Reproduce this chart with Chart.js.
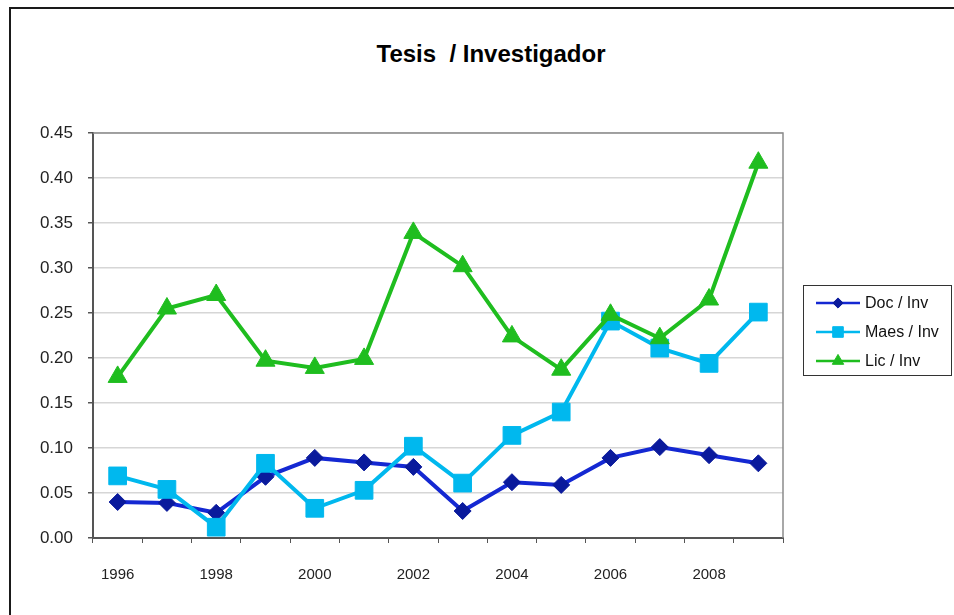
<!DOCTYPE html>
<html>
<head>
<meta charset="utf-8">
<script src="https://cdn.jsdelivr.net/npm/chart.js@4.4.0/dist/chart.umd.min.js"></script>
<style>
    html, body { margin: 0; padding: 0; background: #fff; }
    #contenedor { position: relative; width: 954px; height: 615px; overflow: hidden; }
    #marco {
        position: absolute; left: 9px; top: 7px; width: 1000px; height: 700px;
        border-left: 2px solid #1a1a1a; border-top: 2px solid #1a1a1a;
    }
    #titulo {
        position: absolute; left: 0; top: 40px; width: 982px; text-align: center;
        font: bold 24px "Liberation Sans", Arial, sans-serif; line-height: 28px;
        color: #000; white-space: pre;
    }
    canvas { position: absolute; left: 0; top: 0; }
</style>
</head>
<body>
<div id="contenedor">
    <div id="marco"></div>
    <div id="titulo">Tesis  / Investigador</div>
    <canvas id="graficoTesis" width="954" height="615"></canvas>
</div>
<script>
// ------------------------------------------------------------------
// DATOS
// ------------------------------------------------------------------
const ANIOS = [
    "1996","1997","1998","1999","2000","2001","2002",
    "2003","2004","2005","2006","2007","2008","2009"
];
const ANIOS_VISIBLES = ["1996","1998","2000","2002","2004","2006","2008"];

const DOC_INV  = [0.040,0.039,0.028,0.068,0.089,0.084,0.079,0.030,0.062,0.059,0.089,0.101,0.092,0.083];
const MAES_INV = [0.069,0.054,0.012,0.083,0.033,0.053,0.102,0.061,0.114,0.140,0.241,0.211,0.194,0.251];
const LIC_INV  = [0.179,0.255,0.270,0.197,0.189,0.199,0.339,0.302,0.224,0.187,0.248,0.222,0.265,0.417];

const Y_MIN = 0;
const Y_MAX = 0.45;
const Y_PASO = 0.05;

const FUENTE = '"Liberation Sans", Arial, sans-serif';

// ------------------------------------------------------------------
// marco gris del area de trazado (arriba y derecha)
// ------------------------------------------------------------------
const marcoArea = {
    id: "marcoArea",
    beforeDatasetsDraw(chart) {
        const a = chart.chartArea;
        const ctx = chart.ctx;
        ctx.save();
        ctx.strokeStyle = "#8c8c8c";
        ctx.lineWidth = 1.5;
        ctx.beginPath();
        ctx.moveTo(a.left, a.top);
        ctx.lineTo(a.right, a.top);
        ctx.lineTo(a.right, a.bottom);
        ctx.stroke();
        ctx.restore();
    }
};

// ------------------------------------------------------------------
// leyenda con recuadro (linea + marcador)
// ------------------------------------------------------------------
const leyendaCaja = {
    id: "leyendaCaja",
    afterDraw(chart) {
        const ctx = chart.ctx;
        ctx.save();
        ctx.strokeStyle = "#333";
        ctx.lineWidth = 1;
        ctx.strokeRect(803.5, 285.5, 148, 90);
        ctx.font = "16px " + FUENTE;
        ctx.textBaseline = "middle";

        chart.data.datasets.forEach((ds, i) => {
            const y = 303 + i * 29;
            ctx.strokeStyle = ds.borderColor;
            ctx.lineWidth = 2.5;
            ctx.beginPath();
            ctx.moveTo(816, y);
            ctx.lineTo(860, y);
            ctx.stroke();

            ctx.fillStyle = ds.pointBackgroundColor;
            ctx.strokeStyle = ds.pointBorderColor;
            ctx.lineWidth = 1;
            Chart.helpers.drawPoint(ctx, {
                pointStyle: ds.pointStyle,
                radius: ds.pointRadius * 0.6,
                rotation: 0,
                borderWidth: 1
            }, 838, y);

            ctx.fillStyle = "#111";
            ctx.fillText(ds.label, 865, y + 1);
        });
        ctx.restore();
    }
};

// ------------------------------------------------------------------
const ctx = document.getElementById("graficoTesis").getContext("2d");

new Chart(ctx, {
    type: "line",
    data: {
        labels: ANIOS,
        datasets: [
            {
                label: "Doc / Inv",
                data: DOC_INV,
                borderColor: "#1428d2",
                borderWidth: 4,
                pointStyle: "rectRot",
                pointRadius: 8.5,
                pointBackgroundColor: "#0a1a9c",
                pointBorderColor: "#0a1a9c",
                pointBorderWidth: 1,
                tension: 0,
                order: 3
            },
            {
                label: "Maes / Inv",
                data: MAES_INV,
                borderColor: "#00b8ee",
                borderWidth: 4,
                pointStyle: "rect",
                pointRadius: 12.5,
                pointBackgroundColor: "#00b8ee",
                pointBorderColor: "#00b8ee",
                pointBorderWidth: 1,
                tension: 0,
                order: 2
            },
            {
                label: "Lic / Inv",
                data: LIC_INV,
                borderColor: "#1fbd1f",
                borderWidth: 4,
                pointStyle: "triangle",
                pointRadius: 11,
                pointBackgroundColor: "#1fbd1f",
                pointBorderColor: "#1fbd1f",
                pointBorderWidth: 1,
                tension: 0,
                order: 1
            }
        ]
    },
    options: {
        responsive: false,
        animation: false,
        devicePixelRatio: 1,
        layout: {
            padding: { top: 133, left: 0, right: 171, bottom: 17 }
        },
        plugins: {
            legend: { display: false },
            title: { display: false },
            tooltip: { enabled: false }
        },
        scales: {
            x: {
                offset: true,
                grid: {
                    offset: true,
                    drawOnChartArea: false,
                    drawTicks: true,
                    tickLength: 5,
                    tickColor: "#555"
                },
                border: { color: "#555", width: 2 },
                ticks: {
                    autoSkip: false,
                    maxRotation: 0,
                    padding: 23,
                    color: "#222",
                    font: { family: FUENTE, size: 15 },
                    callback: (v, i) => ANIOS_VISIBLES.includes(ANIOS[i]) ? ANIOS[i] : ""
                },
                afterFit: (escala) => { escala.height = 60; }
            },
            y: {
                min: Y_MIN,
                max: Y_MAX,
                grid: {
                    color: "#d6d6d6",
                    lineWidth: 1.5,
                    tickLength: 5,
                    tickColor: "#555"
                },
                border: { color: "#555", width: 2 },
                ticks: {
                    stepSize: Y_PASO,
                    padding: 15,
                    color: "#222",
                    font: { family: FUENTE, size: 17 },
                    callback: (v) => Number(v).toFixed(2)
                },
                afterFit: (escala) => { escala.width = 93; }
            }
        }
    },
    plugins: [marcoArea, leyendaCaja]
});
</script>
</body>
</html>
